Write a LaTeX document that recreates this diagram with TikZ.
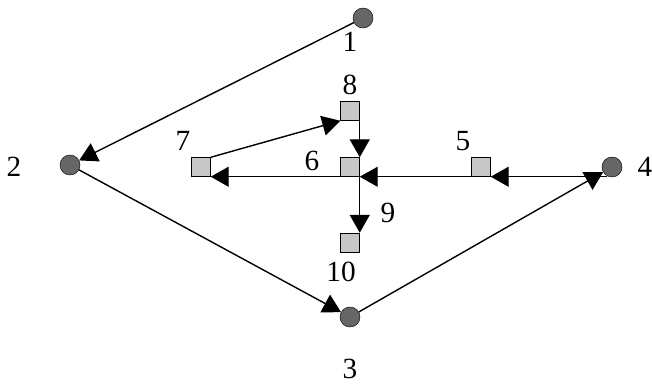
\documentclass[tikz,border=0pt]{standalone}
\usepackage{fontspec}
\setmainfont{Liberation Serif}
\usetikzlibrary{arrows.meta}
\begin{document}
\begin{tikzpicture}[x=0.03cm,y=-0.03cm,
    stop/.style={circle,draw,fill=black!60,minimum size=0.6cm,inner sep=0pt},
    job/.style={rectangle,draw,fill=black!22,minimum size=0.57cm,inner sep=0pt},
    num/.style={inner sep=0pt,font=\fontsize{25}{28}\selectfont}]
      \useasboundingbox (0,0) rectangle (652,385);
      \draw
        (363,18) node[stop] (1){}
        (70,165) node[stop] (2){}
        (350,317) node[stop] (3){}
        (612,167) node[stop] (4){}
        (481,167) node[job] (5){}
        (350,167) node[job] (6){}
        (201,167) node[job] (7){}
        (350,111) node[job] (8){}
        (350,242.5) node[job] (10){};
      \draw
        (350,42) node[num] (l1){1}
        (14,167) node[num] (l2){2}
        (350,369) node[num] (l3){3}
        (645,167) node[num] (l4){4}
        (463,141) node[num] (l5){5}
        (312,161) node[num] (l6){6}
        (183,141) node[num] (l7){7}
        (350,85) node[num] (l8){8}
        (388,213) node[num] (l9){9}
        (341,272) node[num] (l10){10};
      \begin{scope}[-{Triangle[length=5.4mm,width=6mm]},line width=1.2pt]
        \draw (1) to (2);
        \draw (2) to (3);
        \draw (3) to (4);
        \draw (4.-120 |- 5.south east) to (5.south east);
        \draw (5.south west) to (6.south east);
        \draw (6.south east) to (7.south east);
        \draw (7.north east) to (8.south west);
        \draw (8.south east) to (6.north east);
        \draw (6.south east) to (10.north east);
      \end{scope}
    \end{tikzpicture}
\end{document}
